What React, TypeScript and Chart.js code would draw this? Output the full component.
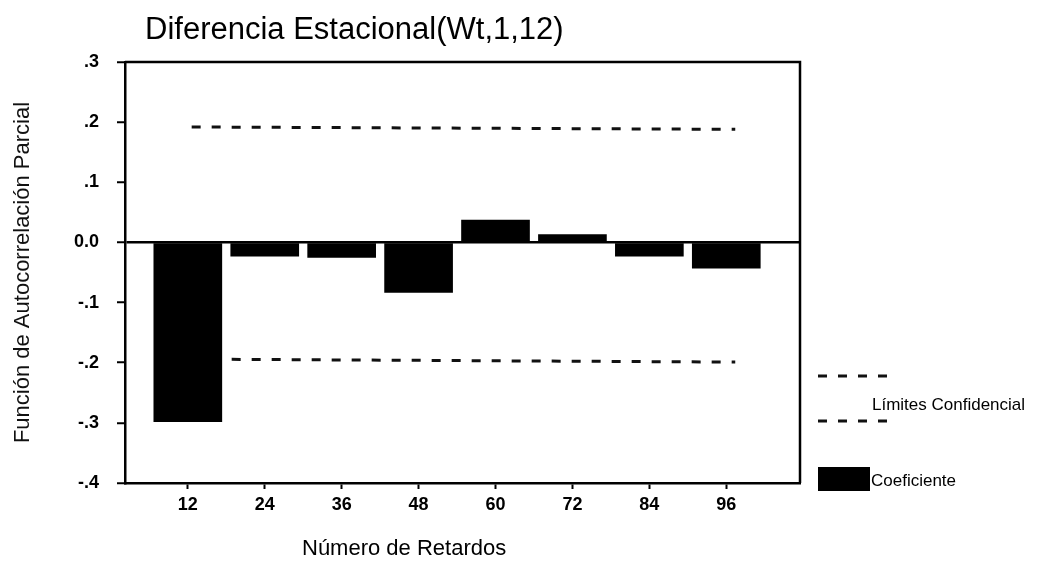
import React, { useEffect, useRef } from "react";
import { Chart, registerables } from "chart.js";

Chart.register(...registerables);

const titleText = "Diferencia Estacional(Wt,1,12)";
const yAxisTitle = "Función de Autocorrelación Parcial";
const xAxisTitle = "Número de Retardos";
const legendLimits = "Límites Confidencial";
const legendCoef = "Coeficiente";

const lags = [12, 24, 36, 48, 60, 72, 84, 96];
const pacf = [-0.298, -0.023, -0.025, -0.083, 0.037, 0.013, -0.023, -0.043];
const confX = [12.6, 97.4];
const upperLimit = [0.192, 0.188];
const lowerLimit = [-0.194, -0.199];
const yTickValues = [-0.4, -0.3, -0.2, -0.1, 0, 0.1, 0.2, 0.3];

const FONT = '"Liberation Sans", Arial, Helvetica, sans-serif';
const DASH = [9, 11];

function fmtY(v: number): string {
  if (Math.abs(v) < 1e-9) return "0.0";
  const d = Math.round(Math.abs(v) * 10);
  return (v < 0 ? "-" : "") + "." + d;
}

const decorPlugin = {
  id: "decor",
  afterDraw(chart: any) {
    const ctx = chart.ctx;
    const a = chart.chartArea;
    ctx.save();
    // box top and right
    ctx.strokeStyle = "#000";
    ctx.lineWidth = 2.5;
    ctx.beginPath();
    ctx.moveTo(a.left, a.top);
    ctx.lineTo(a.right, a.top);
    ctx.lineTo(a.right, a.bottom);
    ctx.stroke();

    ctx.fillStyle = "#000";
    ctx.textBaseline = "middle";
    ctx.textAlign = "left";
    // title
    ctx.font = `31px ${FONT}`;
    ctx.fillText(titleText, 145, 30);
    // x axis title
    ctx.font = `22px ${FONT}`;
    ctx.fillText(xAxisTitle, 302, 549);

    // legend
    ctx.strokeStyle = "#111";
    ctx.lineWidth = 3;
    ctx.setLineDash(DASH);
    ctx.beginPath();
    ctx.moveTo(818, 376);
    ctx.lineTo(890, 376);
    ctx.moveTo(818, 421);
    ctx.lineTo(890, 421);
    ctx.stroke();
    ctx.setLineDash([]);
    ctx.font = `17px ${FONT}`;
    ctx.fillText(legendLimits, 872, 405);
    ctx.fillRect(818, 467, 52, 24);
    ctx.fillText(legendCoef, 871, 481);
    ctx.restore();
  },
};

export default function App() {
  const ref = useRef<HTMLCanvasElement | null>(null);

  useEffect(() => {
    if (!ref.current) return;
    const chart = new Chart(ref.current, {
      type: "bar",
      data: {
        datasets: [
          {
            type: "bar",
            label: legendCoef,
            data: lags.map((x, i) => ({ x, y: pacf[i] })),
            backgroundColor: "#000",
            borderWidth: 0,
            barThickness: 68,
            order: 0,
          } as any,
          {
            type: "line",
            label: legendLimits,
            data: confX.map((x, i) => ({ x, y: upperLimit[i] })),
            borderColor: "#111",
            borderWidth: 3,
            borderDash: DASH,
            pointRadius: 0,
            fill: false,
            order: 1,
          } as any,
          {
            type: "line",
            label: legendLimits,
            data: confX.map((x, i) => ({ x, y: lowerLimit[i] })),
            borderColor: "#111",
            borderWidth: 3,
            borderDash: DASH,
            pointRadius: 0,
            fill: false,
            order: 1,
          } as any,
        ],
      },
      options: {
        animation: false,
        responsive: false,
        maintainAspectRatio: false,
        layout: { padding: { left: 0, top: 62, right: 237, bottom: 0 } },
        plugins: {
          legend: { display: false },
          tooltip: { enabled: false },
          title: { display: false },
        },
        scales: {
          x: {
            type: "linear",
            min: 2.2,
            max: 107.5,
            offset: false,
            afterBuildTicks: (s: any) => {
              s.ticks = lags.map((v) => ({ value: v }));
            },
            afterFit: (s: any) => {
              s.height = 87;
            },
            ticks: {
              autoSkip: false,
              maxRotation: 0,
              padding: 5,
              color: "#000",
              font: { family: FONT, size: 18, weight: "bold" },
              callback: (v: any) => String(v),
            },
            grid: {
              offset: false,
              drawOnChartArea: false,
              drawTicks: true,
              tickLength: 6,
              tickColor: "#000",
              tickWidth: 2,
            },
            border: { display: true, color: "#000", width: 2.5 },
          } as any,
          y: {
            type: "linear",
            min: -0.4,
            max: 0.3,
            afterBuildTicks: (s: any) => {
              s.ticks = yTickValues.map((v) => ({ value: v }));
            },
            afterFit: (s: any) => {
              s.width = 125;
            },
            ticks: {
              padding: 18,
              color: "#000",
              font: { family: FONT, size: 18, weight: "bold" },
              callback: (v: any) => fmtY(Number(v)),
            },
            grid: {
              drawOnChartArea: true,
              drawTicks: true,
              tickLength: 8,
              tickColor: "#000",
              tickWidth: 2,
              lineWidth: 2.5,
              color: (c: any) =>
                c.tick && Math.abs(c.tick.value) < 1e-9 ? "#000" : "rgba(0,0,0,0)",
            },
            border: { display: true, color: "#000", width: 2.5 },
            title: {
              display: true,
              text: yAxisTitle,
              color: "#111",
              font: { family: FONT, size: 22 },
              padding: { top: 10, bottom: 0 },
            },
          } as any,
        },
      },
      plugins: [decorPlugin],
    });
    return () => chart.destroy();
  }, []);

  return (
    <div style={{ position: "fixed", left: 0, top: 0, width: 1037, height: 570, background: "#fff" }}>
      <canvas ref={ref} width={1037} height={570} style={{ display: "block" }} />
    </div>
  );
}
